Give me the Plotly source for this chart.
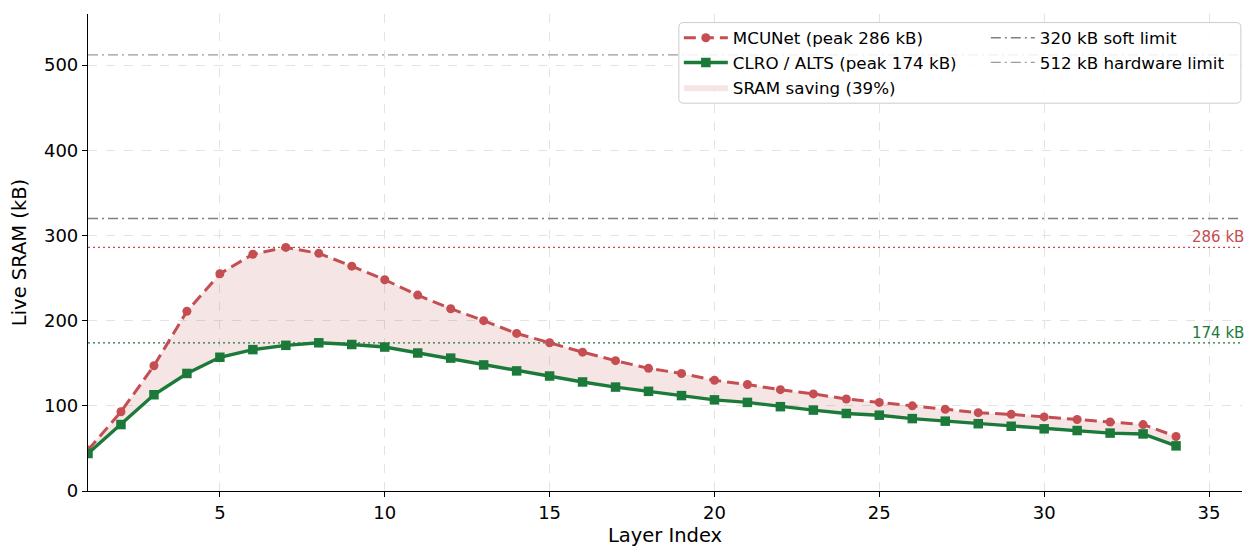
import plotly.graph_objects as go

layers = list(range(1, 35))
mcunet = [48, 93, 147, 211, 255, 278, 286, 279, 264, 248, 230, 214, 200, 185, 174,
          163, 153, 144, 138, 130, 125, 119, 114, 108, 104, 100, 96, 92, 90, 87, 84, 81, 78, 64]
clro = [44, 78, 113, 138, 157, 166, 171, 174, 172, 169, 162, 156, 148, 141, 135,
        128, 122, 117, 112, 107, 104, 99, 95, 91, 89, 85, 82, 79, 76, 73, 71, 68, 67, 53]
soft_limit = 320
hard_limit = 512
peak_mcu = 286
peak_clro = 174
x_span = [1, 36]

RED = "#C44E52"
GREEN = "#1B7A3A"
FONT = "DejaVu Sans"

fig = go.Figure()

# fill between curves
fig.add_trace(go.Scatter(x=layers, y=clro, mode="lines", line=dict(width=0, color="rgba(0,0,0,0)"),
                         showlegend=False, hoverinfo="skip"))
fig.add_trace(go.Scatter(x=layers, y=mcunet, mode="lines", fill="tonexty",
                         fillcolor="rgba(196,78,82,0.15)", line=dict(width=0, color="rgba(196,78,82,0.15)"),
                         name="SRAM saving (39%)", legend="legend", legendrank=3))

# peak dotted lines
fig.add_trace(go.Scatter(x=x_span, y=[peak_mcu, peak_mcu], mode="lines",
                         line=dict(color=RED, width=1.2, dash="2px,3px"), showlegend=False, hoverinfo="skip"))
fig.add_trace(go.Scatter(x=x_span, y=[peak_clro, peak_clro], mode="lines",
                         line=dict(color=GREEN, width=1.2, dash="2px,3px"), showlegend=False, hoverinfo="skip"))

# limit lines
fig.add_trace(go.Scatter(x=x_span, y=[soft_limit, soft_limit], mode="lines",
                         line=dict(color="#808080", width=1.6, dash="10px,4px,2px,4px"),
                         name="320 kB soft limit", legend="legend2", legendrank=1))
fig.add_trace(go.Scatter(x=x_span, y=[hard_limit, hard_limit], mode="lines",
                         line=dict(color="#9a9a9a", width=1.3, dash="10px,4px,2px,4px"),
                         name="512 kB hardware limit", legend="legend2", legendrank=2))

# main series
fig.add_trace(go.Scatter(x=layers, y=mcunet, mode="lines+markers",
                         line=dict(color=RED, width=3, dash="12px,6px"),
                         marker=dict(symbol="circle", size=9, color=RED),
                         name="MCUNet (peak 286 kB)", legend="legend", legendrank=1))
fig.add_trace(go.Scatter(x=layers, y=clro, mode="lines+markers",
                         line=dict(color=GREEN, width=3.4),
                         marker=dict(symbol="square", size=9.5, color=GREEN),
                         name="CLRO / ALTS (peak 174 kB)", legend="legend", legendrank=2))

# annotations
fig.add_annotation(x=36, y=peak_mcu, text="286 kB", showarrow=False, xanchor="right", yanchor="bottom",
                   xshift=4, yshift=-1, font=dict(family=FONT, size=15, color=RED))
fig.add_annotation(x=36, y=peak_clro, text="174 kB", showarrow=False, xanchor="right", yanchor="bottom",
                   xshift=4, yshift=-1, font=dict(family=FONT, size=15, color=GREEN))

# legend frame
x0, x1, y0, y1, r = 0.512, 0.999, 0.813, 0.982, 0.004
ry = r * 1154 / 477
fig.add_shape(type="path", xref="paper", yref="paper", layer="above",
              path=(f"M {x0+r},{y0} L {x1-r},{y0} Q {x1},{y0} {x1},{y0+ry} L {x1},{y1-ry} "
                    f"Q {x1},{y1} {x1-r},{y1} L {x0+r},{y1} Q {x0},{y1} {x0},{y1-ry} "
                    f"L {x0},{y0+ry} Q {x0},{y0} {x0+r},{y0} Z"),
              fillcolor="rgba(255,255,255,0.85)", line=dict(color="#cccccc", width=1))

axis_common = dict(showline=True, linecolor="black", linewidth=1.2, ticks="outside", ticklen=5,
                   tickwidth=1.2, tickcolor="black", showgrid=True, gridcolor="#e3e3e3",
                   griddash="dash", gridwidth=1, zeroline=False,
                   tickfont=dict(family=FONT, size=18, color="black"))

fig.update_layout(
    width=1256, height=560,
    margin=dict(l=88, r=14, t=14, b=69),
    plot_bgcolor="white", paper_bgcolor="white",
    font=dict(family=FONT, size=17, color="black"),
    xaxis=dict(range=x_span, tickvals=[5, 10, 15, 20, 25, 30, 35],
               title=dict(text="Layer Index", font=dict(family=FONT, size=19.5), standoff=6),
               **axis_common),
    yaxis=dict(range=[0, 560], tickvals=[0, 100, 200, 300, 400, 500],
               title=dict(text="Live SRAM (kB)", font=dict(family=FONT, size=19.5), standoff=12),
               **axis_common),
    legend=dict(x=0.512, y=0.9866, xanchor="left", yanchor="top", bgcolor="rgba(0,0,0,0)",
                borderwidth=0, font=dict(family=FONT, size=16.7), tracegroupgap=0, itemwidth=44,
                traceorder="normal"),
    legend2=dict(x=0.778, y=0.9866, xanchor="left", yanchor="top", bgcolor="rgba(0,0,0,0)",
                 borderwidth=0, font=dict(family=FONT, size=16.7), tracegroupgap=0, itemwidth=44,
                 traceorder="normal"),
    showlegend=True,
)

fig.write_html("out.html")
